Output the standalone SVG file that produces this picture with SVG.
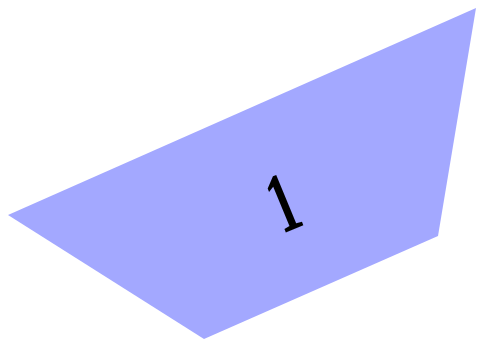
<svg xmlns="http://www.w3.org/2000/svg" width="479" height="340" viewBox="0 0 479 340">
<style>
.face{fill:#a3a8ff;stroke:none}
.lbl{font-family:"Liberation Serif","DejaVu Serif",serif;font-size:86px;font-weight:bold;fill:#000;text-anchor:middle}
</style>
<rect width="479" height="340" fill="#fff"/>
<g id="face1">
<polygon class="face" points="8,215 476,8 438,236 204,339"/>
<text class="lbl" transform="translate(294,229) rotate(-22.5) scale(0.6,1)">1</text>
</g>
</svg>
